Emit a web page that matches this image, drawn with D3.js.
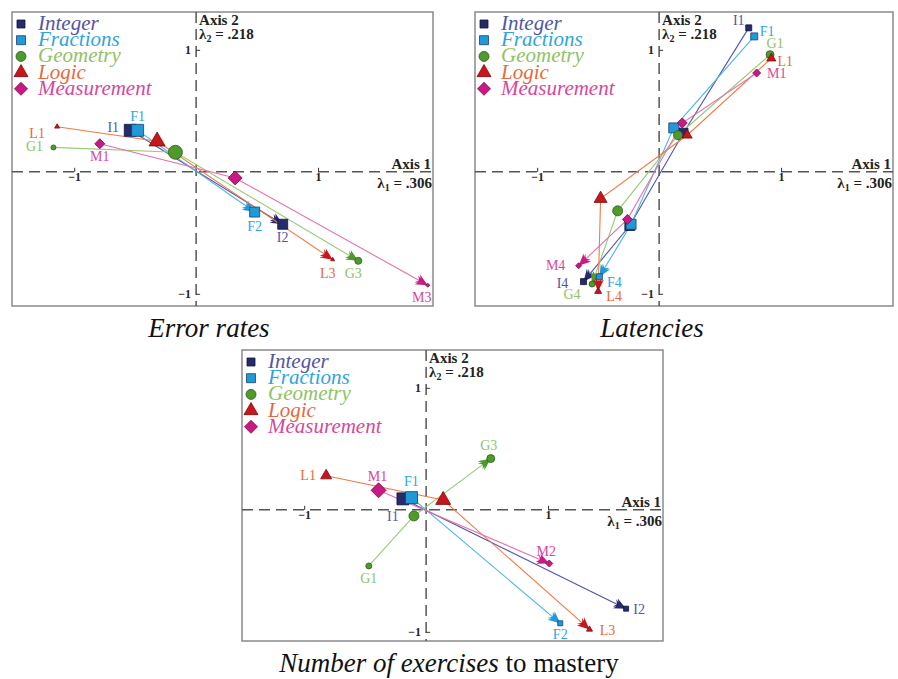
<!DOCTYPE html>
<html>
<head>
<meta charset="utf-8">
<script src="https://cdn.jsdelivr.net/npm/d3@7"></script>
<style>
	body { margin: 0; background: #fff; }
	svg { display: block; }
</style>
</head>
<body>
<div id="chart"></div>
<script>
// Topics and the letter used in point labels
const topics = ["Integer", "Fractions", "Geometry", "Logic", "Measurement"]
const prefixes = ["I", "F", "G", "L", "M"]

// Error rates: session coordinates [axis 1, axis 2]
const errorInteger = [[-0.54, 0.34], [0.71, -0.43]]
const errorFractions = [[-0.48, 0.34], [0.48, -0.33]]
const errorGeometry = [[-1.17, 0.2], [-0.17, 0.16], [1.33, -0.73]]
const errorLogic = [[-1.14, 0.37], [-0.32, 0.25], [1.12, -0.72]]
const errorMeasurement = [[-0.79, 0.23], [0.32, -0.05], [1.9, -0.93]]

// Latencies
const latInteger = [[0.735, 1.18], [0.2, 0.32], [-0.24, -0.44], [-0.62, -0.9]]
const latFractions = [[0.78, 1.11], [0.12, 0.36], [-0.23, -0.43], [-0.49, -0.86]]
const latGeometry = [[0.91, 0.96], [0.155, 0.3], [-0.34, -0.32], [-0.55, -0.92]]
const latLogic = [[0.92, 0.93], [0.23, 0.3], [-0.48, -0.22], [-0.5, -0.98]]
const latMeasurement = [[0.8, 0.81], [0.19, 0.4], [-0.26, -0.39], [-0.66, -0.77]]

// Number of exercises to mastery
const exInteger = [[-0.19, 0.09], [1.64, -0.81]]
const exFractions = [[-0.12, 0.1], [1.1, -0.93]]
const exGeometry = [[-0.47, -0.46], [-0.1, -0.05], [0.53, 0.42]]
const exLogic = [[-0.82, 0.28], [0.14, 0.08], [1.34, -0.98]]
const exMeasurement = [[-0.39, 0.16], [1.01, -0.44]]

// Eigenvalues and axis ticks
const lambda1 = ".306"
const lambda2 = ".218"
const axisTicks = [-1, 1]

// ---- styles ----
const topicStyle = [
	{ kind: "square", fill: "#262b6b", stroke: "#11143a", line: "#5053aa", text: "#5255a3", legendSize: 8 },
	{ kind: "square", fill: "#1f9ad6", stroke: "#1c3f73", line: "#4cb5e6", text: "#2fa4de", legendSize: 9 },
	{ kind: "circle", fill: "#4e9a2d", stroke: "#2d5e19", line: "#97ca74", text: "#8fc266", legendSize: 10 },
	{ kind: "triangle", fill: "#c9161c", stroke: "#7a0a0e", line: "#f07a46", text: "#e9683b", legendSize: 14 },
	{ kind: "diamond", fill: "#c81a82", stroke: "#7d0d50", line: "#e870ad", text: "#d8479b", legendSize: 13 },
]

// marker widths (px) per panel, topic, session
const sizesError = [[12, 10], [12, 10], [5, 14, 7], [5, 16, 4], [10, 14, 4]]
const sizesLat = [[6, 9, 10, 6], [7, 10, 10, 6], [8, 9, 10, 6], [9, 10, 13, 7], [8, 10, 10, 6]]
const sizesEx = [[12, 5], [12, 5], [6, 10, 8], [11, 15, 6], [15, 7]]

// label centre offsets (px) from marker: [first, last]
const labelsError = [[[-17, -3], [0, 13]], [[0, -14], [0, 14]], [[-19, -1], [-5, 13]], [[-20, 7], [-5, 14]], [[0, 13], [-6, 12]]]
const labelsLat = [[[-10, -7], [-21, 2]], [[13, -5], [15, 6]], [[5, -11], [-20, 10]], [[14, 3], [16, 5]], [[20, 1], [-23, 0]]]
const labelsEx = [[[-10, 18], [13, 1]], [[0, -16], [0, 11]], [[0, 13], [-2, -13]], [[-18, 0], [18, 1]], [[-1, -14], [-3, -12]]]

const panels = [
	{
		caption: [{ t: "Error rates", italic: true }], capX: 209, capY: 337,
		left: 12, top: 12, width: 421, height: 294, yDomain: [-1.1, 1.31],
		series: [errorInteger, errorFractions, errorGeometry, errorLogic, errorMeasurement],
		sizes: sizesError, labels: labelsError,
	},
	{
		caption: [{ t: "Latencies", italic: true }], capX: 652, capY: 337,
		left: 475, top: 12, width: 418, height: 294, yDomain: [-1.1, 1.31],
		series: [latInteger, latFractions, latGeometry, latLogic, latMeasurement],
		sizes: sizesLat, labels: labelsLat,
	},
	{
		caption: [{ t: "Number of exercises", italic: true }, { t: " to mastery", italic: false }], capX: 449, capY: 672,
		left: 242, top: 350, width: 421, height: 291, yDomain: [-1.075, 1.31],
		series: [exInteger, exFractions, exGeometry, exLogic, exMeasurement],
		sizes: sizesEx, labels: labelsEx,
	},
]

const W = 898
const H = 679
const serif = "'Liberation Serif', 'DejaVu Serif', serif"

const svg = d3
	.select("#chart")
	.append("svg")
	.attr("width", W)
	.attr("height", H)
	.style("font-family", serif)

// arrow heads, one per topic colour
const defs = svg.append("defs")
topicStyle.forEach((s, i) => {
	defs.append("marker")
		.attr("id", `arrow-${i}`)
		.attr("viewBox", "-13 -6 14 12")
		.attr("refX", 0)
		.attr("refY", 0)
		.attr("markerUnits", "userSpaceOnUse")
		.attr("markerWidth", 14)
		.attr("markerHeight", 12)
		.attr("orient", "auto")
		.append("path")
		.attr("d", "M0,0 L-12,-5.5 L-8,0 L-12,5.5 Z M-5,0 L-13,-4 L-10,0 L-13,4 Z")
		.attr("fill", s.fill)
})

// marker shape of width w
function shape(kind, w) {
	if (kind === "square") return d3.symbol(d3.symbolSquare, w * w)()
	if (kind === "circle") return d3.symbol(d3.symbolCircle, (Math.PI * w * w) / 4)()
	if (kind === "triangle") return d3.symbol(d3.symbolTriangle, (Math.sqrt(3) / 4) * w * w)()
	return d3.symbol(d3.symbolSquare, (w * w) / 2)()
}

function drawMarker(g, kind, cx, cy, w, s) {
	g.append("path")
		.attr("d", shape(kind, w))
		.attr("transform", `translate(${cx},${cy})` + (kind === "diamond" ? " rotate(45)" : ""))
		.attr("fill", s.fill)
		.attr("stroke", s.stroke)
		.attr("stroke-width", 0.8)
}

panels.forEach((p) => {
	const g = svg.append("g").attr("transform", `translate(${p.left},${p.top})`)

	const x = d3.scaleLinear().domain([-1.51, (p.width - 184) / 122]).range([0, p.width])
	const y = d3.scaleLinear().domain(p.yDomain).range([p.height, 0])

	// frame
	g.append("rect")
		.attr("width", p.width)
		.attr("height", p.height)
		.attr("fill", "none")
		.attr("stroke", "#8a8a8a")
		.attr("stroke-width", 1.5)

	// dashed axes through the origin
	g.append("line")
		.attr("x1", 0).attr("x2", p.width)
		.attr("y1", y(0)).attr("y2", y(0))
		.attr("stroke", "#555").attr("stroke-width", 1.5)
		.attr("stroke-dasharray", "11,6")
	g.append("line")
		.attr("x1", x(0)).attr("x2", x(0))
		.attr("y1", 0).attr("y2", p.height)
		.attr("stroke", "#555").attr("stroke-width", 1.5)
		.attr("stroke-dasharray", "11,6")

	const fmt = d3.format("d")
	const axisH = g.append("g")
		.attr("transform", `translate(0,${y(0)})`)
		.call(d3.axisBottom(x).tickValues(axisTicks).tickFormat(fmt).tickSizeInner(-4).tickSizeOuter(0).tickPadding(1))
	const axisV = g.append("g")
		.attr("transform", `translate(${x(0)},0)`)
		.call(d3.axisLeft(y).tickValues(axisTicks).tickFormat(fmt).tickSizeInner(-4).tickSizeOuter(0).tickPadding(5))
	;[axisH, axisV].forEach((a) => {
		a.select(".domain").remove()
		a.selectAll("line").attr("stroke", "#333")
		a.selectAll("text")
			.attr("font-family", serif)
			.attr("font-size", 12)
			.attr("font-weight", "bold")
			.attr("fill", "#222")
	})

	// axis titles
	const titleStyle = (t) => t.attr("font-size", 15).attr("font-weight", "bold").attr("fill", "#222")
	g.append("text").attr("x", p.width - 2).attr("y", y(0) - 3).attr("text-anchor", "end").text("Axis 1").call(titleStyle)
	const l1 = g.append("text").attr("x", p.width - 1).attr("y", y(0) + 16).attr("text-anchor", "end").call(titleStyle)
	l1.append("tspan").text("λ")
	l1.append("tspan").attr("dy", 3).attr("font-size", 10).text("1")
	l1.append("tspan").attr("dy", -3).text(" = " + lambda1)
	g.append("text").attr("x", x(0) + 3).attr("y", 13).text("Axis 2").call(titleStyle)
	const l2 = g.append("text").attr("x", x(0) + 3).attr("y", 27).call(titleStyle)
	l2.append("tspan").text("λ")
	l2.append("tspan").attr("dy", 3).attr("font-size", 10).text("2")
	l2.append("tspan").attr("dy", -3).text(" = " + lambda2)

	// trajectories
	const line = d3.line().x((d) => x(d[0])).y((d) => y(d[1]))
	p.series.forEach((pts, i) => {
		g.append("path")
			.datum(pts)
			.attr("d", line)
			.attr("fill", "none")
			.attr("stroke", topicStyle[i].line)
			.attr("stroke-width", 1.1)
			.attr("marker-end", `url(#arrow-${i})`)
	})

	// session markers
	p.series.forEach((pts, i) => {
		pts.forEach((d, k) => drawMarker(g, topicStyle[i].kind, x(d[0]), y(d[1]), p.sizes[i][k], topicStyle[i]))
	})

	// labels on the first and last session
	p.series.forEach((pts, i) => {
		const ends = [0, pts.length - 1]
		ends.forEach((k, j) => {
			const off = p.labels[i][j]
			g.append("text")
				.attr("x", x(pts[k][0]) + off[0])
				.attr("y", y(pts[k][1]) + off[1] + 4.5)
				.attr("text-anchor", "middle")
				.attr("font-size", 14)
				.attr("fill", topicStyle[i].text)
				.text(prefixes[i] + (k + 1))
		})
	})

	// legend
	topics.forEach((name, i) => {
		const ly = 12 + i * 16.2
		drawMarker(g, topicStyle[i].kind, 9, ly, topicStyle[i].legendSize, topicStyle[i])
		g.append("text")
			.attr("x", 26)
			.attr("y", ly + 6)
			.attr("font-size", 21)
			.attr("font-style", "italic")
			.attr("fill", topicStyle[i].text)
			.text(name)
	})

	// caption
	const cap = svg.append("text")
		.attr("x", p.capX)
		.attr("y", p.capY)
		.attr("text-anchor", "middle")
		.attr("font-size", 27)
		.attr("fill", "#111")
	p.caption.forEach((c) => {
		cap.append("tspan").attr("font-style", c.italic ? "italic" : "normal").text(c.t)
	})
})
</script>
</body>
</html>
